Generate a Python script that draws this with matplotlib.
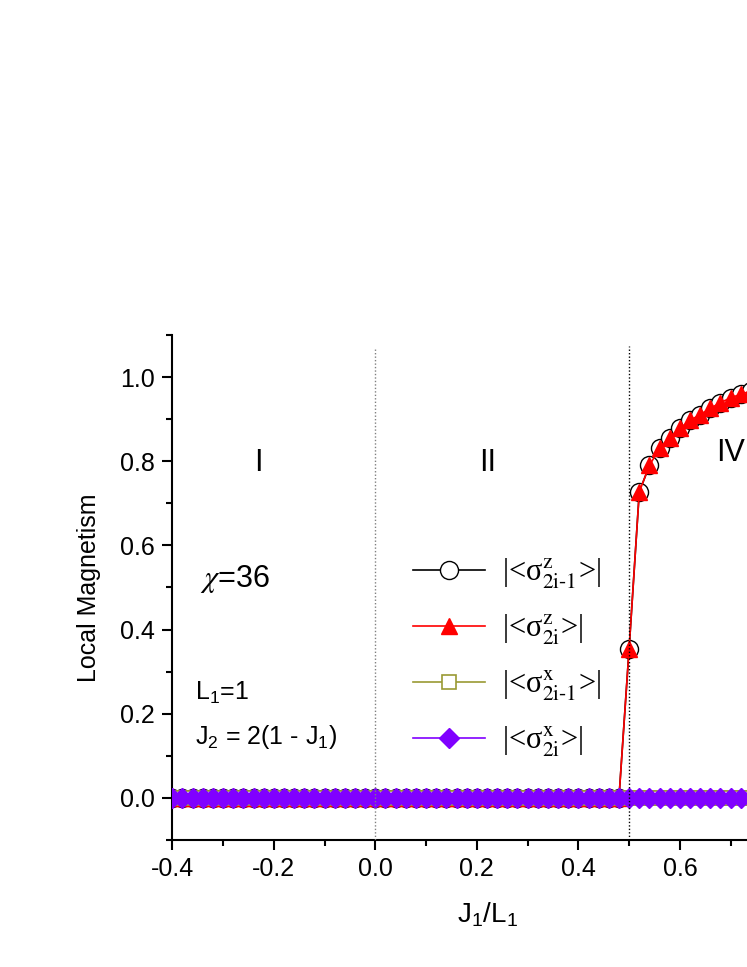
import matplotlib
matplotlib.use("Agg")
import matplotlib.pyplot as plt
import numpy as np
from matplotlib.font_manager import FontProperties

plt.rcParams['font.family'] = ['Liberation Sans', 'DejaVu Sans']
plt.rcParams['axes.unicode_minus'] = False
plt.rcParams['mathtext.fontset'] = 'custom'
plt.rcParams['mathtext.rm'] = 'Liberation Sans'
plt.rcParams['mathtext.it'] = 'Liberation Sans:italic'
plt.rcParams['mathtext.bf'] = 'Liberation Sans:bold'

# ---- data ----
x_low = [round(-0.4 + 0.02 * i, 2) for i in range(45)]          # -0.40 ... 0.48
z_low = [0.0] * len(x_low)
x_high = [0.50, 0.52, 0.54, 0.56, 0.58, 0.60, 0.62, 0.64, 0.66, 0.68, 0.70, 0.72, 0.74]
z_high = [0.355, 0.727, 0.790, 0.831, 0.856, 0.878, 0.897, 0.911, 0.926, 0.939, 0.951, 0.959, 0.967]
sz_odd_x = x_low + x_high
sz_odd_y = z_low + z_high
sz_even_x = x_low + x_high
sz_even_y = z_low + z_high
sx_x = [round(-0.4 + 0.02 * i, 2) for i in range(58)]            # -0.40 ... 0.74
sx_odd_y = [0.0] * len(sx_x)
sx_even_y = [0.0] * len(sx_x)

labels = [r'|<σ$^{\mathrm{z}}_{\mathrm{2i}\text{-}\mathrm{1}}$>|',
          r'|<σ$^{\mathrm{z}}_{\mathrm{2i}}$>|',
          r'|<σ$^{\mathrm{x}}_{\mathrm{2i}\text{-}\mathrm{1}}$>|',
          r'|<σ$^{\mathrm{x}}_{\mathrm{2i}}$>|']
phase_x = [-0.23, 0.221, 0.672]
phase_y = [0.796, 0.796, 0.82]
phase_txt = ['I', 'II', 'IV']
boundaries = [0.0, 0.5]

W, H = 747, 967
fig = plt.figure(figsize=(W / 100, H / 100), dpi=100)
ax = fig.add_axes([172.3 / W, 127 / H, (801.7 - 172.3) / W, 505 / H])

ax.plot(sz_odd_x, sz_odd_y, '-o', color='black', lw=1.2, ms=13, mfc='white',
        mec='black', mew=1.0, label=labels[0], zorder=3)
ax.plot(sz_even_x, sz_even_y, '-^', color='#ff0000', lw=1.2, ms=12, mfc='#ff0000',
        mec='#ff0000', label=labels[1], zorder=4)
ax.plot(sx_x, sx_odd_y, '-s', color='#999933', lw=1.2, ms=10, mfc='white',
        mec='#999933', mew=1.2, label=labels[2], zorder=5)
ax.plot(sx_x, sx_even_y, '-D', color='#8000ff', lw=1.2, ms=10, mfc='#8000ff',
        mec='#8000ff', label=labels[3], zorder=6)

ax.vlines(boundaries[0], -0.1, 1.07, colors='#808080', linestyles=(0, (1, 1.5)), lw=1.0, zorder=10)
ax.vlines(boundaries[1], -0.1, 1.075, colors='black', linestyles=(0, (1, 1.5)), lw=1.0, zorder=10)

ax.set_xlim(-0.4, 0.84)
ax.set_ylim(-0.1, 1.1)
ax.set_xticks(np.arange(-0.4, 0.61, 0.2))
ax.set_xticks(np.arange(-0.3, 0.71, 0.2), minor=True)
ax.set_yticks(np.arange(0.0, 1.01, 0.2))
ax.set_yticks(np.arange(-0.1, 1.11, 0.2), minor=True)
ax.xaxis.set_major_formatter(matplotlib.ticker.FormatStrFormatter('%.1f'))
ax.yaxis.set_major_formatter(matplotlib.ticker.FormatStrFormatter('%.1f'))

ax.spines['top'].set_visible(False)
for s in ['left', 'bottom', 'right']:
    ax.spines[s].set_linewidth(1.5)
ax.tick_params(which='major', direction='out', length=7.5, width=1.5, labelsize=18, pad=5)
ax.tick_params(which='minor', direction='out', length=4.5, width=1.5)
ax.tick_params(top=False, right=False, which='both')

ax.set_xlabel(r'J$_1$/L$_1$', fontsize=20, labelpad=14)
ax.set_ylabel('Local Magnetism', fontsize=18, labelpad=14)

for px, py, t in zip(phase_x, phase_y, phase_txt):
    ax.text(px, py, t, fontsize=22, ha='left' if t == 'IV' else 'center', va='center')

ax.text(-0.345, 0.521, r'$\chi$=36', fontsize=22, ha='left', va='center',
        math_fontfamily='stix')
ax.text(-0.355, 0.249, r'L$_1$=1', fontsize=18, ha='left', va='center')
ax.text(-0.355, 0.145, r'J$_2$ = 2(1 - J$_1$)', fontsize=18, ha='left', va='center')

prop = FontProperties(family='Liberation Serif', size=22, math_fontfamily='stix')
leg = ax.legend(loc='upper left', bbox_to_anchor=(413 / W, 1 - 557 / H),
                bbox_transform=fig.transFigure, frameon=False, prop=prop,
                numpoints=1, handlelength=2.36, handletextpad=0.55,
                labelspacing=0.7, borderpad=0, borderaxespad=0)

fig.savefig('out.png', dpi=100)
